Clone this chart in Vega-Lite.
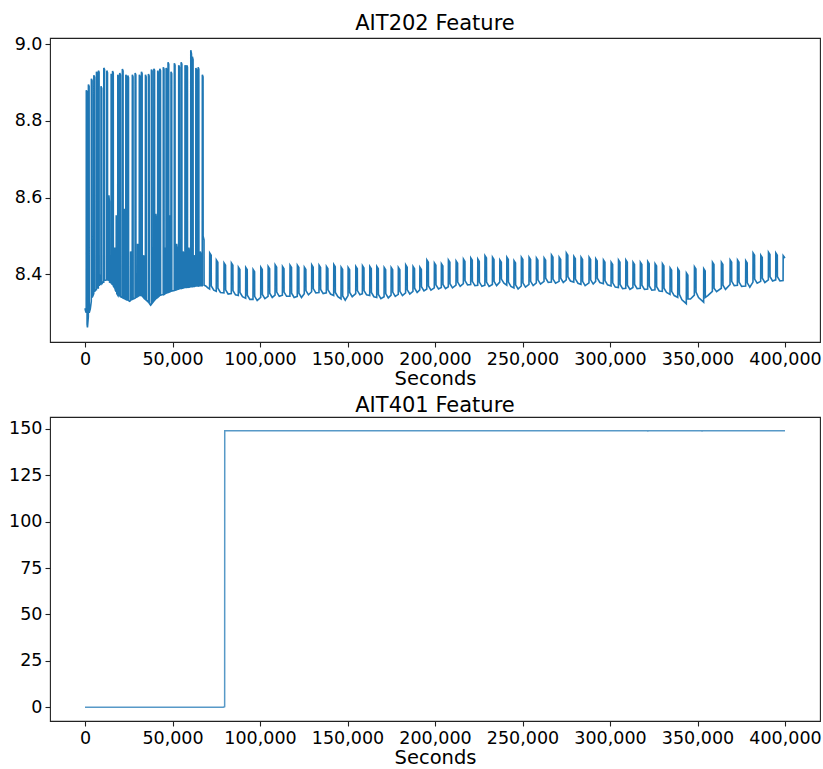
{
"$schema": "https://vega.github.io/schema/vega-lite/v6.json",
"padding": {"left": 8, "top": 12, "right": 2, "bottom": 0},
"spacing": 5,
"config": {
  "font": "DejaVu Sans",
  "view": {"stroke": "#222", "strokeWidth": 1.1},
  "axis": {"grid": false, "domain": false, "tickColor": "#222", "tickSize": 5, "tickWidth": 1.1, "labelFontSize": 17.5, "labelColor": "#000", "labelPadding": 3, "titleFontSize": 19.5, "titleFontWeight": "normal", "titleColor": "#000", "labelFont": "DejaVu Sans", "titleFont": "DejaVu Sans"},
  "title": {"fontSize": 21, "fontWeight": "normal", "font": "DejaVu Sans", "color": "#000", "offset": 1, "baseline": "alphabetic", "anchor": "middle"}
},
"datasets": {
"ait202": [
{"x":0,"y":8.312},{"x":300,"y":8.305},{"x":700,"y":8.30},{"x":750,"y":8.88},{"x":1150,"y":8.875},{"x":1200,"y":8.27},{"x":1400,"y":8.262},{"x":1900,"y":8.29},{"x":1950,"y":8.895},{"x":2350,"y":8.89},{"x":2400,"y":8.30},{"x":3000,"y":8.31},{"x":3600,"y":8.33},{"x":3650,"y":8.91},{"x":4050,"y":8.905},{"x":4100,"y":8.34},{"x":4600,"y":8.345},{"x":5000,"y":8.35},{"x":5050,"y":8.919},{"x":5450,"y":8.914},{"x":5500,"y":8.355},{"x":6000,"y":8.36},{"x":6500,"y":8.36},{"x":6550,"y":8.928},{"x":6950,"y":8.924},{"x":7000,"y":8.365},{"x":7600,"y":8.365},{"x":7650,"y":8.931},{"x":8050,"y":8.927},{"x":8100,"y":8.37},{"x":8600,"y":8.40},{"x":9100,"y":8.372},{"x":9150,"y":8.89},{"x":9550,"y":8.885},{"x":9600,"y":8.375},{"x":10200,"y":8.38},{"x":10700,"y":8.38},{"x":10750,"y":8.938},{"x":11150,"y":8.934},{"x":11200,"y":8.385},{"x":11800,"y":8.385},{"x":12400,"y":8.386},{"x":12450,"y":8.931},{"x":12850,"y":8.926},{"x":12900,"y":8.386},{"x":13600,"y":8.385},{"x":13650,"y":8.606},{"x":13950,"y":8.59},{"x":14000,"y":8.38},{"x":14900,"y":8.378},{"x":14950,"y":8.923},{"x":15350,"y":8.918},{"x":15400,"y":8.375},{"x":15700,"y":8.374},{"x":15750,"y":8.93},{"x":16150,"y":8.925},{"x":16200,"y":8.37},{"x":16900,"y":8.365},{"x":16950,"y":8.47},{"x":17200,"y":8.46},{"x":17250,"y":8.36},{"x":17800,"y":8.355},{"x":17850,"y":8.554},{"x":18100,"y":8.54},{"x":18150,"y":8.35},{"x":18700,"y":8.346},{"x":18750,"y":8.92},{"x":19150,"y":8.915},{"x":19200,"y":8.345},{"x":19800,"y":8.344},{"x":19850,"y":8.925},{"x":20250,"y":8.92},{"x":20300,"y":8.342},{"x":21300,"y":8.34},{"x":21350,"y":8.935},{"x":21750,"y":8.93},{"x":21800,"y":8.338},{"x":22500,"y":8.337},{"x":22550,"y":8.571},{"x":22850,"y":8.56},{"x":22900,"y":8.336},{"x":23300,"y":8.335},{"x":23350,"y":8.92},{"x":23750,"y":8.915},{"x":23800,"y":8.334},{"x":24400,"y":8.333},{"x":24450,"y":8.918},{"x":24850,"y":8.913},{"x":24900,"y":8.332},{"x":25500,"y":8.33},{"x":26000,"y":8.332},{"x":26050,"y":8.46},{"x":26300,"y":8.455},{"x":26350,"y":8.334},{"x":27000,"y":8.335},{"x":27050,"y":8.92},{"x":27450,"y":8.915},{"x":27500,"y":8.336},{"x":28600,"y":8.338},{"x":28650,"y":8.925},{"x":29050,"y":8.92},{"x":29100,"y":8.34},{"x":30000,"y":8.342},{"x":30050,"y":8.48},{"x":30300,"y":8.47},{"x":30350,"y":8.343},{"x":31000,"y":8.345},{"x":31050,"y":8.92},{"x":31450,"y":8.915},{"x":31500,"y":8.346},{"x":32200,"y":8.345},{"x":32250,"y":8.928},{"x":32650,"y":8.923},{"x":32700,"y":8.344},{"x":33400,"y":8.34},{"x":33450,"y":8.45},{"x":33700,"y":8.445},{"x":33750,"y":8.338},{"x":34500,"y":8.335},{"x":34550,"y":8.92},{"x":34950,"y":8.915},{"x":35000,"y":8.333},{"x":36200,"y":8.328},{"x":36250,"y":8.922},{"x":36650,"y":8.917},{"x":36700,"y":8.325},{"x":37500,"y":8.32},{"x":37900,"y":8.322},{"x":37950,"y":8.934},{"x":38350,"y":8.93},{"x":38400,"y":8.325},{"x":39300,"y":8.33},{"x":39350,"y":8.936},{"x":39750,"y":8.932},{"x":39800,"y":8.333},{"x":40400,"y":8.336},{"x":40450,"y":8.558},{"x":40750,"y":8.545},{"x":40800,"y":8.338},{"x":41500,"y":8.34},{"x":41550,"y":8.931},{"x":41950,"y":8.926},{"x":42000,"y":8.342},{"x":42700,"y":8.345},{"x":42750,"y":8.936},{"x":43150,"y":8.931},{"x":43200,"y":8.346},{"x":44700,"y":8.348},{"x":44750,"y":8.94},{"x":45150,"y":8.935},{"x":45200,"y":8.348},{"x":45500,"y":8.349},{"x":45550,"y":8.47},{"x":45800,"y":8.46},{"x":45850,"y":8.35},{"x":46300,"y":8.351},{"x":46350,"y":8.938},{"x":46750,"y":8.933},{"x":46800,"y":8.352},{"x":47400,"y":8.353},{"x":47450,"y":8.953},{"x":47850,"y":8.948},{"x":47900,"y":8.354},{"x":48300,"y":8.355},{"x":48350,"y":8.554},{"x":48650,"y":8.54},{"x":48700,"y":8.355},{"x":49100,"y":8.356},{"x":49150,"y":8.928},{"x":49550,"y":8.923},{"x":49600,"y":8.357},{"x":51000,"y":8.358},{"x":51050,"y":8.95},{"x":51450,"y":8.945},{"x":51500,"y":8.359},{"x":52300,"y":8.36},{"x":52350,"y":8.48},{"x":52600,"y":8.47},{"x":52650,"y":8.361},{"x":53500,"y":8.362},{"x":53550,"y":8.945},{"x":53950,"y":8.94},{"x":54000,"y":8.363},{"x":54900,"y":8.364},{"x":54950,"y":8.953},{"x":55350,"y":8.948},{"x":55400,"y":8.364},{"x":56000,"y":8.365},{"x":56050,"y":8.46},{"x":56300,"y":8.455},{"x":56350,"y":8.365},{"x":57100,"y":8.366},{"x":57150,"y":8.945},{"x":57550,"y":8.94},{"x":57600,"y":8.366},{"x":58100,"y":8.366},{"x":58150,"y":8.945},{"x":58550,"y":8.94},{"x":58600,"y":8.367},{"x":59300,"y":8.367},{"x":59350,"y":8.47},{"x":59600,"y":8.46},{"x":59650,"y":8.367},{"x":60400,"y":8.368},{"x":60450,"y":8.984},{"x":60850,"y":8.975},{"x":60900,"y":8.368},{"x":61300,"y":8.368},{"x":61350,"y":8.967},{"x":61750,"y":8.96},{"x":61800,"y":8.369},{"x":62300,"y":8.369},{"x":62350,"y":8.45},{"x":62600,"y":8.445},{"x":62650,"y":8.369},{"x":63300,"y":8.37},{"x":63350,"y":8.938},{"x":63750,"y":8.933},{"x":63800,"y":8.37},{"x":64600,"y":8.37},{"x":64650,"y":8.94},{"x":65050,"y":8.935},{"x":65100,"y":8.37},{"x":65800,"y":8.371},{"x":65850,"y":8.46},{"x":66100,"y":8.455},{"x":66150,"y":8.371},{"x":67000,"y":8.371},{"x":67050,"y":8.92},{"x":67450,"y":8.915},{"x":67500,"y":8.5},{"x":68000,"y":8.49},{"x":68050,"y":8.372},{"x":69000,"y":8.37},{"x":70200,"y":8.365},
{"x":71200,"y":8.362},{"x":71260,"y":8.456},{"x":72100,"y":8.45},{"x":72160,"y":8.37},{"x":73600,"y":8.359},
{"x":75000,"y":8.356},{"x":75060,"y":8.438},{"x":75900,"y":8.432},{"x":75960,"y":8.364},{"x":77400,"y":8.353},
{"x":79400,"y":8.352},{"x":79460,"y":8.43},{"x":80300,"y":8.424},{"x":80360,"y":8.36},{"x":81800,"y":8.349},
{"x":83600,"y":8.35},{"x":83660,"y":8.43},{"x":84500,"y":8.424},{"x":84560,"y":8.358},{"x":86000,"y":8.347},
{"x":87600,"y":8.345},{"x":87660,"y":8.419},{"x":88500,"y":8.413},{"x":88560,"y":8.353},{"x":90000,"y":8.342},
{"x":91800,"y":8.338},{"x":91860,"y":8.418},{"x":92700,"y":8.412},{"x":92760,"y":8.346},{"x":94200,"y":8.335},
{"x":96000,"y":8.335},{"x":96060,"y":8.413},{"x":96900,"y":8.407},{"x":96960,"y":8.343},{"x":98400,"y":8.332},
{"x":100400,"y":8.34},{"x":100460,"y":8.419},{"x":101300,"y":8.413},{"x":101360,"y":8.348},{"x":102800,"y":8.337},
{"x":104600,"y":8.343},{"x":104660,"y":8.421},{"x":105500,"y":8.415},{"x":105560,"y":8.351},{"x":107000,"y":8.34},
{"x":108600,"y":8.346},{"x":108660,"y":8.425},{"x":109500,"y":8.419},{"x":109560,"y":8.354},{"x":111000,"y":8.343},
{"x":112800,"y":8.346},{"x":112860,"y":8.421},{"x":113700,"y":8.415},{"x":113760,"y":8.354},{"x":115200,"y":8.343},
{"x":117100,"y":8.343},{"x":117160,"y":8.424},{"x":118000,"y":8.418},{"x":118060,"y":8.351},{"x":119500,"y":8.34},
{"x":121300,"y":8.343},{"x":121360,"y":8.424},{"x":122200,"y":8.418},{"x":122260,"y":8.351},{"x":123700,"y":8.34},
{"x":125300,"y":8.35},{"x":125360,"y":8.419},{"x":126200,"y":8.413},{"x":126260,"y":8.358},{"x":127700,"y":8.347},
{"x":129500,"y":8.355},{"x":129560,"y":8.425},{"x":130400,"y":8.419},{"x":130460,"y":8.363},{"x":131900,"y":8.352},
{"x":133700,"y":8.353},{"x":133760,"y":8.424},{"x":134600,"y":8.418},{"x":134660,"y":8.361},{"x":136100,"y":8.35},
{"x":137900,"y":8.352},{"x":137960,"y":8.421},{"x":138800,"y":8.415},{"x":138860,"y":8.36},{"x":140300,"y":8.349},
{"x":142100,"y":8.345},{"x":142160,"y":8.426},{"x":143000,"y":8.42},{"x":143060,"y":8.353},{"x":144500,"y":8.342},
{"x":146300,"y":8.336},{"x":146360,"y":8.419},{"x":147200,"y":8.413},{"x":147260,"y":8.344},{"x":148700,"y":8.333},
{"x":150300,"y":8.345},{"x":150360,"y":8.418},{"x":151200,"y":8.412},{"x":151260,"y":8.353},{"x":152700,"y":8.342},
{"x":154700,"y":8.35},{"x":154760,"y":8.421},{"x":155600,"y":8.415},{"x":155660,"y":8.358},{"x":157100,"y":8.347},
{"x":158500,"y":8.35},{"x":158560,"y":8.423},{"x":159400,"y":8.417},{"x":159460,"y":8.358},{"x":160900,"y":8.347},
{"x":162700,"y":8.345},{"x":162760,"y":8.421},{"x":163600,"y":8.415},{"x":163660,"y":8.353},{"x":165100,"y":8.342},
{"x":166700,"y":8.34},{"x":166760,"y":8.421},{"x":167600,"y":8.415},{"x":167660,"y":8.348},{"x":169100,"y":8.337},
{"x":170900,"y":8.342},{"x":170960,"y":8.418},{"x":171800,"y":8.412},{"x":171860,"y":8.35},{"x":173300,"y":8.339},
{"x":174900,"y":8.346},{"x":174960,"y":8.418},{"x":175800,"y":8.412},{"x":175860,"y":8.354},{"x":177300,"y":8.343},
{"x":179000,"y":8.348},{"x":179060,"y":8.418},{"x":179900,"y":8.412},{"x":179960,"y":8.356},{"x":181400,"y":8.345},
{"x":183200,"y":8.352},{"x":183260,"y":8.425},{"x":184100,"y":8.419},{"x":184160,"y":8.36},{"x":185600,"y":8.349},
{"x":187400,"y":8.356},{"x":187460,"y":8.421},{"x":188300,"y":8.415},{"x":188360,"y":8.364},{"x":189800,"y":8.353},
{"x":191300,"y":8.36},{"x":191360,"y":8.419},{"x":192200,"y":8.413},{"x":192260,"y":8.368},{"x":193700,"y":8.357},
{"x":195300,"y":8.362},{"x":195360,"y":8.438},{"x":196200,"y":8.432},{"x":196260,"y":8.37},{"x":197700,"y":8.359},
{"x":199600,"y":8.365},{"x":199660,"y":8.43},{"x":200500,"y":8.424},{"x":200560,"y":8.373},{"x":202000,"y":8.362},
{"x":203600,"y":8.366},{"x":203660,"y":8.428},{"x":204500,"y":8.422},{"x":204560,"y":8.374},{"x":206000,"y":8.363},
{"x":207600,"y":8.368},{"x":207660,"y":8.438},{"x":208500,"y":8.432},{"x":208560,"y":8.376},{"x":210000,"y":8.365},
{"x":212000,"y":8.372},{"x":212060,"y":8.435},{"x":212900,"y":8.429},{"x":212960,"y":8.38},{"x":214400,"y":8.369},
{"x":216200,"y":8.376},{"x":216260,"y":8.44},{"x":217100,"y":8.434},{"x":217160,"y":8.384},{"x":218600,"y":8.373},
{"x":220400,"y":8.374},{"x":220460,"y":8.443},{"x":221300,"y":8.437},{"x":221360,"y":8.382},{"x":222800,"y":8.371},
{"x":224400,"y":8.372},{"x":224460,"y":8.44},{"x":225300,"y":8.434},{"x":225360,"y":8.38},{"x":226800,"y":8.369},
{"x":228500,"y":8.372},{"x":228560,"y":8.449},{"x":229400,"y":8.443},{"x":229460,"y":8.38},{"x":230900,"y":8.369},
{"x":232800,"y":8.374},{"x":232860,"y":8.445},{"x":233700,"y":8.439},{"x":233760,"y":8.382},{"x":235200,"y":8.371},
{"x":237000,"y":8.38},{"x":237060,"y":8.438},{"x":237900,"y":8.432},{"x":237960,"y":8.388},{"x":239400,"y":8.377},
{"x":241000,"y":8.372},{"x":241060,"y":8.445},{"x":241900,"y":8.439},{"x":241960,"y":8.38},{"x":243400,"y":8.369},
{"x":245100,"y":8.365},{"x":245160,"y":8.436},{"x":246000,"y":8.43},{"x":246060,"y":8.373},{"x":247500,"y":8.362},
{"x":249300,"y":8.37},{"x":249360,"y":8.445},{"x":250200,"y":8.439},{"x":250260,"y":8.378},{"x":251700,"y":8.367},
{"x":253700,"y":8.374},{"x":253760,"y":8.445},{"x":254600,"y":8.439},{"x":254660,"y":8.382},{"x":256100,"y":8.371},
{"x":257900,"y":8.378},{"x":257960,"y":8.443},{"x":258800,"y":8.437},{"x":258860,"y":8.386},{"x":260300,"y":8.375},
{"x":262300,"y":8.382},{"x":262360,"y":8.443},{"x":263200,"y":8.437},{"x":263260,"y":8.39},{"x":264700,"y":8.379},
{"x":266500,"y":8.38},{"x":266560,"y":8.451},{"x":267400,"y":8.445},{"x":267460,"y":8.388},{"x":268900,"y":8.377},
{"x":270900,"y":8.382},{"x":270960,"y":8.445},{"x":271800,"y":8.439},{"x":271860,"y":8.39},{"x":273300,"y":8.379},
{"x":275000,"y":8.386},{"x":275060,"y":8.456},{"x":275900,"y":8.45},{"x":275960,"y":8.394},{"x":277400,"y":8.383},
{"x":279300,"y":8.38},{"x":279360,"y":8.447},{"x":280200,"y":8.441},{"x":280260,"y":8.388},{"x":281700,"y":8.377},
{"x":283400,"y":8.374},{"x":283460,"y":8.445},{"x":284300,"y":8.439},{"x":284360,"y":8.382},{"x":285800,"y":8.371},
{"x":288000,"y":8.378},{"x":288060,"y":8.445},{"x":288900,"y":8.439},{"x":288960,"y":8.386},{"x":290400,"y":8.375},
{"x":291800,"y":8.382},{"x":291860,"y":8.441},{"x":292700,"y":8.435},{"x":292760,"y":8.39},{"x":294200,"y":8.379},
{"x":296200,"y":8.376},{"x":296260,"y":8.438},{"x":297100,"y":8.432},{"x":297160,"y":8.384},{"x":298600,"y":8.373},
{"x":300600,"y":8.37},{"x":300660,"y":8.432},{"x":301500,"y":8.426},{"x":301560,"y":8.378},{"x":303000,"y":8.367},
{"x":304800,"y":8.366},{"x":304860,"y":8.438},{"x":305700,"y":8.432},{"x":305760,"y":8.374},{"x":307200,"y":8.363},
{"x":309000,"y":8.364},{"x":309060,"y":8.438},{"x":309900,"y":8.432},{"x":309960,"y":8.372},{"x":311400,"y":8.361},
{"x":313100,"y":8.366},{"x":313160,"y":8.432},{"x":314000,"y":8.426},{"x":314060,"y":8.374},{"x":315500,"y":8.363},
{"x":317300,"y":8.364},{"x":317360,"y":8.432},{"x":318200,"y":8.426},{"x":318260,"y":8.372},{"x":319700,"y":8.361},
{"x":321500,"y":8.362},{"x":321560,"y":8.434},{"x":322400,"y":8.428},{"x":322460,"y":8.37},{"x":323900,"y":8.359},
{"x":325700,"y":8.36},{"x":325760,"y":8.428},{"x":326600,"y":8.422},{"x":326660,"y":8.368},{"x":328100,"y":8.357},
{"x":329900,"y":8.356},{"x":329960,"y":8.428},{"x":330800,"y":8.422},{"x":330860,"y":8.364},{"x":332300,"y":8.353},
{"x":334300,"y":8.348},{"x":334360,"y":8.417},{"x":335200,"y":8.411},{"x":335260,"y":8.356},{"x":336700,"y":8.345},
{"x":338700,"y":8.34},{"x":338760,"y":8.415},{"x":339600,"y":8.409},{"x":339660,"y":8.348},{"x":341100,"y":8.334},
{"x":343600,"y":8.324},{"x":343660,"y":8.404},{"x":344500,"y":8.398},{"x":344560,"y":8.336},{"x":346000,"y":8.336},
{"x":348200,"y":8.346},{"x":348260,"y":8.42},{"x":349100,"y":8.414},{"x":349160,"y":8.354},{"x":350600,"y":8.34},
{"x":353500,"y":8.328},{"x":353560,"y":8.415},{"x":354400,"y":8.409},{"x":354460,"y":8.34},{"x":355900,"y":8.345},
{"x":358500,"y":8.356},{"x":358560,"y":8.432},{"x":359400,"y":8.426},{"x":359460,"y":8.364},{"x":360900,"y":8.355},
{"x":363600,"y":8.364},{"x":363660,"y":8.432},{"x":364500,"y":8.426},{"x":364560,"y":8.372},{"x":366000,"y":8.361},
{"x":368600,"y":8.374},{"x":368660,"y":8.438},{"x":369500,"y":8.432},{"x":369560,"y":8.382},{"x":371000,"y":8.371},
{"x":372800,"y":8.372},{"x":372860,"y":8.438},{"x":373700,"y":8.432},{"x":373760,"y":8.38},{"x":375200,"y":8.369},
{"x":377500,"y":8.37},{"x":377560,"y":8.436},{"x":378400,"y":8.43},{"x":378460,"y":8.378},{"x":379900,"y":8.367},
{"x":381700,"y":8.38},{"x":381760,"y":8.456},{"x":382600,"y":8.45},{"x":382660,"y":8.388},{"x":384100,"y":8.377},
{"x":386100,"y":8.382},{"x":386160,"y":8.45},{"x":387000,"y":8.444},{"x":387060,"y":8.39},{"x":388500,"y":8.379},
{"x":390500,"y":8.386},{"x":390560,"y":8.458},{"x":391400,"y":8.452},{"x":391460,"y":8.394},{"x":392900,"y":8.383},
{"x":394700,"y":8.386},{"x":394760,"y":8.456},{"x":395600,"y":8.45},{"x":395660,"y":8.394},{"x":397100,"y":8.383},
{"x":398900,"y":8.384},{"x":398960,"y":8.449},{"x":400000,"y":8.443}
],
"ait401": [
{"x":0,"y":0},{"x":79000,"y":0},{"x":79800,"y":0.3},{"x":79850,"y":149},{"x":321500,"y":149},{"x":321600,"y":148.6},{"x":321700,"y":149},{"x":352500,"y":149},{"x":352600,"y":148.6},{"x":352700,"y":149},{"x":400000,"y":149}
]
},
"vconcat": [
{
  "title": "AIT202 Feature",
  "width": 770, "height": 304,
  "data": {"name": "ait202"},
  "mark": {"type": "line", "color": "#1f77b4", "strokeWidth": 1.6},
  "encoding": {
    "x": {"field": "x", "type": "quantitative", "scale": {"domain": [-20000, 420000], "nice": false, "zero": false},
          "axis": {"values": [0,50000,100000,150000,200000,250000,300000,350000,400000], "format": ",d", "title": "Seconds", "titlePadding": 2, "labelFlush": false}},
    "y": {"field": "y", "type": "quantitative", "scale": {"domain": [8.224, 9.016], "nice": false, "zero": false},
          "axis": {"values": [8.4, 8.6, 8.8, 9.0], "format": ".1f", "title": null}}
  }
},
{
  "title": "AIT401 Feature",
  "width": 770, "height": 304,
  "data": {"name": "ait401"},
  "mark": {"type": "line", "color": "#1f77b4", "strokeWidth": 1.5, "strokeOpacity": 0.75},
  "encoding": {
    "x": {"field": "x", "type": "quantitative", "scale": {"domain": [-20000, 420000], "nice": false, "zero": false},
          "axis": {"values": [0,50000,100000,150000,200000,250000,300000,350000,400000], "format": ",d", "title": "Seconds", "titlePadding": 2, "labelFlush": false}},
    "y": {"field": "y", "type": "quantitative", "scale": {"domain": [-7.45, 156.45], "nice": false, "zero": false},
          "axis": {"values": [0, 25, 50, 75, 100, 125, 150], "format": "d", "title": null}}
  }
}
]
}
